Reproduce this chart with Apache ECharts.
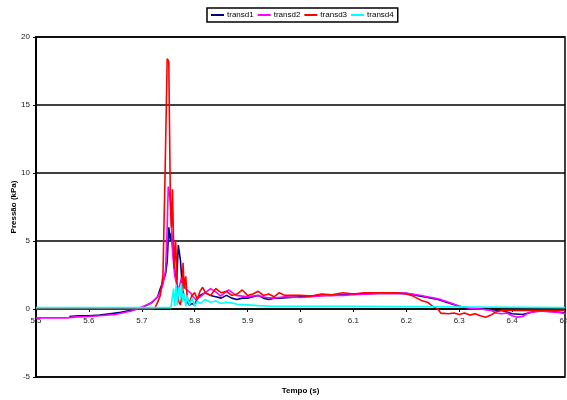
<!DOCTYPE html>
<html><head><meta charset="utf-8">
<script src="https://cdn.jsdelivr.net/npm/echarts@6/dist/echarts.min.js"></script>
<style>html,body{margin:0;padding:0;background:#fff}#c{width:567px;height:400px}</style>
</head><body><div id="c"></div>
<script>
const seriesNames = ['transd1','transd2','transd3','transd4'];
const xTicks = ['5.5','5.6','5.7','5.8','5.9','6','6.1','6.2','6.3','6.4','6.5'];

const t1 = [5.563,5.58,5.6,5.62,5.64,5.66,5.68,5.7,5.71,5.72,5.73,5.735,5.74,5.745,5.748,5.751,5.754,5.756,5.76,5.763,5.766,5.769,5.773,5.777,5.781,5.786,5.79,5.795,5.8,5.805,5.81,5.82,5.83,5.84,5.85,5.86,5.87,5.88,5.89,5.9,5.91,5.92,5.93,5.94,5.95,5.96,5.98,6.0,6.02,6.04,6.06,6.08,6.1,6.12,6.14,6.16,6.18,6.2,6.22,6.24,6.26,6.28,6.3,6.32,6.34,6.36,6.38,6.4,6.42,6.44,6.46,6.48,6.5];
const v1 = [-0.55,-0.5,-0.5,-0.45,-0.35,-0.25,-0.1,0.1,0.3,0.5,0.9,1.5,2.0,2.6,3.5,6.0,5.0,5.6,3.8,2.6,2.1,4.7,3.6,1.4,0.7,0.5,0.3,0.4,0.3,0.8,1.0,1.2,1.0,0.9,0.8,1.0,0.8,0.7,0.8,0.8,0.9,1.0,0.8,0.7,0.8,0.8,0.85,0.9,0.95,1.0,1.0,1.05,1.1,1.1,1.15,1.15,1.15,1.15,1.0,0.85,0.7,0.45,0.2,0.05,0.0,-0.05,-0.1,-0.35,-0.4,-0.2,-0.15,-0.2,-0.3];

const t2 = [5.5,5.53,5.56,5.57,5.6,5.62,5.65,5.68,5.7,5.716,5.73,5.735,5.74,5.745,5.748,5.75,5.754,5.758,5.762,5.766,5.769,5.772,5.775,5.779,5.783,5.788,5.792,5.797,5.802,5.806,5.811,5.82,5.83,5.84,5.849,5.857,5.864,5.871,5.878,5.89,5.9,5.91,5.92,5.935,5.95,5.97,6.0,6.02,6.05,6.08,6.1,6.13,6.15,6.18,6.2,6.22,6.24,6.26,6.28,6.3,6.32,6.34,6.36,6.37,6.38,6.39,6.4,6.41,6.42,6.43,6.45,6.47,6.49,6.5];
const v2 = [-0.65,-0.65,-0.65,-0.6,-0.55,-0.5,-0.4,-0.15,0.15,0.4,0.9,1.25,1.8,2.9,6.0,9.0,8.0,4.3,2.5,1.8,1.4,1.8,2.3,1.8,1.5,1.3,1.2,0.9,0.7,0.8,0.9,1.2,1.5,1.25,0.95,1.2,1.4,1.2,1.0,0.95,0.9,0.95,1.0,0.85,0.8,0.9,0.85,0.9,1.0,1.0,1.05,1.1,1.15,1.15,1.15,1.05,0.9,0.75,0.5,0.2,0.05,0.0,-0.1,-0.3,-0.35,-0.3,-0.5,-0.6,-0.55,-0.3,-0.15,-0.2,-0.25,-0.35];

const t3 = [5.5,5.72,5.725,5.73,5.735,5.74,5.744,5.748,5.751,5.754,5.756,5.758,5.761,5.764,5.767,5.77,5.773,5.776,5.778,5.78,5.783,5.786,5.79,5.795,5.8,5.805,5.81,5.815,5.82,5.83,5.84,5.85,5.86,5.87,5.88,5.89,5.9,5.91,5.92,5.93,5.94,5.95,5.96,5.97,5.98,6.0,6.02,6.04,6.06,6.08,6.1,6.12,6.14,6.16,6.18,6.2,6.21,6.22,6.23,6.24,6.25,6.26,6.265,6.28,6.29,6.3,6.31,6.32,6.33,6.34,6.35,6.36,6.37,6.38,6.4,6.45,6.5];
const v3 = [0,0,0.1,0.5,1.0,2.5,10,18.4,18.2,8,6,8.8,3,5,1.5,0.5,0.3,1,3.4,1.5,2.4,0.8,0.5,1.0,1.2,0.7,1.3,1.6,1.2,1.0,1.5,1.2,1.3,1.0,1.1,1.4,1.0,1.1,1.3,1.0,1.1,0.9,1.2,1.0,1.0,1.0,0.95,1.1,1.05,1.2,1.1,1.2,1.2,1.2,1.2,1.1,1.0,0.8,0.6,0.5,0.2,0.0,-0.3,-0.35,-0.3,-0.4,-0.3,-0.45,-0.35,-0.5,-0.6,-0.45,-0.2,-0.1,-0.1,-0.1,-0.1];

const t4 = [5.5,5.755,5.757,5.76,5.762,5.765,5.767,5.77,5.773,5.775,5.777,5.78,5.783,5.786,5.79,5.795,5.8,5.805,5.81,5.82,5.83,5.84,5.85,5.86,5.87,5.88,5.9,5.92,5.95,6.0,6.05,6.1,6.102,6.5];
const v4 = [0.1,0.1,0.1,1.5,0.2,1.8,0.3,1.6,0.8,1.9,0.5,1.2,0.2,1.0,0.3,0.8,0.2,0.6,0.4,0.7,0.5,0.6,0.4,0.5,0.45,0.35,0.3,0.25,0.2,0.2,0.2,0.2,0.1,0.1];

const colors = ['#000080','#FF00FF','#FF0000','#00FFFF'];
const ts = [t1,t2,t3,t4], vs = [v1,v2,v3,v4];

const chart = echarts.init(document.getElementById('c'), null, {renderer:'canvas'});
const font = 'Liberation Sans, Arial, sans-serif';
const gridTop = 37, gridBottom = 23, yMin = -5, yMax = 20;
const zeroOffset = -(0 - yMin) / (yMax - yMin) * (400 - gridTop - gridBottom);
chart.setOption({
  animation:false,
  backgroundColor:'#fff',
  textStyle:{fontFamily:font},
  legend:{
    top:8, left:207,
    data:seriesNames,
    icon:'rect', itemWidth:13, itemHeight:2, itemGap:4,
    borderColor:'#000', borderWidth:1.5, padding:[3,4,3,4],
    textStyle:{fontSize:8, color:'#000', fontFamily:font, padding:[0,0,0,-2]}
  },
  grid:{left:36, right:2, top:gridTop, bottom:gridBottom, show:true, borderColor:'#000', borderWidth:1.5, backgroundColor:'#fff', containLabel:false, outerBoundsMode:'none'},
  xAxis:{
    type:'value', min:5.5, max:6.5, interval:0.1,
    offset: zeroOffset,
    name:'Tempo (s)', nameLocation:'middle', nameGap:78, nameMoveOverlap:false,
    nameTextStyle:{fontSize:8, fontWeight:'bold', color:'#000'},
    axisLine:{onZero:false, lineStyle:{color:'#000', width:1.5}},
    axisTick:{show:true, length:3, lineStyle:{color:'#000', width:1}},
    axisLabel:{fontSize:8, color:'#222', margin:8, formatter:v=>xTicks[Math.round((v-5.5)*10)]},
    splitLine:{show:false}
  },
  yAxis:{
    type:'value', min:yMin, max:yMax, interval:5,
    name:'Pressão (kPa)', nameLocation:'middle', nameGap:18, nameRotate:90, nameMoveOverlap:false,
    nameTextStyle:{fontSize:8, fontWeight:'bold', color:'#000'},
    axisLine:{show:true, onZero:false, lineStyle:{color:'#000', width:2}},
    axisTick:{show:true, length:3, lineStyle:{color:'#000'}},
    axisLabel:{fontSize:8, color:'#222', margin:6},
    splitLine:{show:true, lineStyle:{color:'#000', width:1.5}}
  },
  series: seriesNames.map((n,i)=>({
    name:n, type:'line', showSymbol:false, symbol:'none',
    data: ts[i].map((t,j)=>[t, vs[i][j]]),
    lineStyle:{color:colors[i], width:1.6},
    itemStyle:{color:colors[i]},
    z: i===3 ? 3 : 2+i*0.1
  }))
});
</script></body></html>
